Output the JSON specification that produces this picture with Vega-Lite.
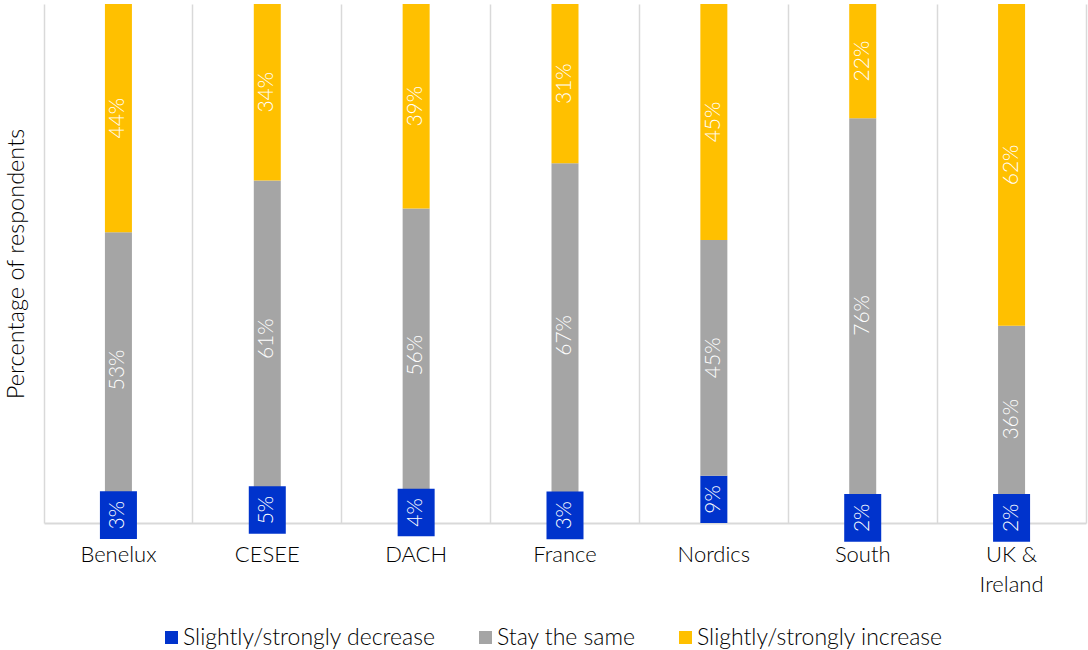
{
  "$schema": "https://vega.github.io/schema/vega-lite/v6.json",
  "width": 1042,
  "height": 519,
  "autosize": {"type": "none"},
  "padding": {"left": 44, "top": 4, "right": 2, "bottom": 127},
  "background": "white",
  "config": {
    "font": "Lato",
    "view": {"stroke": null},
    "axis": {"titleFontWeight": 300}
  },
  "data": {
    "values": [
      {"region": "Benelux", "category": "Slightly/strongly decrease", "order": 1, "value": 3},
      {"region": "Benelux", "category": "Stay the same", "order": 2, "value": 53},
      {"region": "Benelux", "category": "Slightly/strongly increase", "order": 3, "value": 44},
      {"region": "CESEE", "category": "Slightly/strongly decrease", "order": 1, "value": 5},
      {"region": "CESEE", "category": "Stay the same", "order": 2, "value": 61},
      {"region": "CESEE", "category": "Slightly/strongly increase", "order": 3, "value": 34},
      {"region": "DACH", "category": "Slightly/strongly decrease", "order": 1, "value": 4},
      {"region": "DACH", "category": "Stay the same", "order": 2, "value": 56},
      {"region": "DACH", "category": "Slightly/strongly increase", "order": 3, "value": 39},
      {"region": "France", "category": "Slightly/strongly decrease", "order": 1, "value": 3},
      {"region": "France", "category": "Stay the same", "order": 2, "value": 67},
      {"region": "France", "category": "Slightly/strongly increase", "order": 3, "value": 31},
      {"region": "Nordics", "category": "Slightly/strongly decrease", "order": 1, "value": 9},
      {"region": "Nordics", "category": "Stay the same", "order": 2, "value": 45},
      {"region": "Nordics", "category": "Slightly/strongly increase", "order": 3, "value": 45},
      {"region": "South", "category": "Slightly/strongly decrease", "order": 1, "value": 2},
      {"region": "South", "category": "Stay the same", "order": 2, "value": 76},
      {"region": "South", "category": "Slightly/strongly increase", "order": 3, "value": 22},
      {"region": "UK & Ireland", "category": "Slightly/strongly decrease", "order": 1, "value": 2},
      {"region": "UK & Ireland", "category": "Stay the same", "order": 2, "value": 36},
      {"region": "UK & Ireland", "category": "Slightly/strongly increase", "order": 3, "value": 62}
    ]
  },
  "transform": [
    {"stack": "value", "groupby": ["region"], "sort": [{"field": "order", "order": "ascending"}], "as": ["y0", "y1"], "offset": "normalize"},
    {"calculate": "(datum.y0 + datum.y1) / 2", "as": "mid"},
    {"calculate": "datum.value + '%'", "as": "label"}
  ],
  "layer": [
    {
      "mark": {"type": "bar", "width": 27},
      "encoding": {
        "x": {
          "field": "region", "type": "nominal", "sort": null,
          "scale": {"paddingInner": 0, "paddingOuter": 0},
          "axis": {
            "orient": "bottom", "title": null, "labelAngle": 0, "ticks": false,
            "grid": false, "domain": true, "domainColor": "#d9d9d9", "domainWidth": 2,
            "labelFont": "Lato", "labelFontSize": 22, "labelFontWeight": 300, "labelColor": "#000000",
            "labelPadding": 21, "labelLineHeight": 30,
            "labelExpr": "datum.value == 'UK & Ireland' ? ['UK &', 'Ireland'] : datum.value"
          }
        },
        "y": {
          "field": "y0", "type": "quantitative",
          "scale": {"domain": [0, 1], "nice": false, "zero": true},
          "axis": {
            "title": "Percentage of respondents", "titleFontSize": 23.5, "titleColor": "#000000",
            "titleFont": "Lato", "titleFontWeight": 300, "titlePadding": 16,
            "labels": false, "ticks": false, "domain": false, "grid": false
          }
        },
        "y2": {"field": "y1"},
        "color": {
          "field": "category", "type": "nominal",
          "scale": {
            "domain": ["Slightly/strongly decrease", "Stay the same", "Slightly/strongly increase"],
            "range": ["#0033CC", "#A5A5A5", "#FFC000"]
          },
          "legend": {
            "title": null, "orient": "none", "legendX": 116, "legendY": 622, "direction": "horizontal",
            "symbolType": "square", "symbolSize": 170, "symbolStrokeWidth": 0,
            "labelFontSize": 23, "labelFont": "Lato", "labelFontWeight": 300, "labelColor": "#000000",
            "labelLimit": 0, "columnPadding": 38, "labelOffset": 0, "gridAlign": "none"
          }
        }
      }
    },
    {
      "transform": [{"filter": "datum.order != 1"}],
      "mark": {"type": "text", "angle": 270, "align": "center", "baseline": "middle", "color": "white", "fontSize": 21, "font": "Lato", "fontWeight": 300},
      "encoding": {
        "x": {"field": "region", "type": "nominal", "sort": null, "axis": null},
        "y": {"field": "mid", "type": "quantitative", "axis": null},
        "text": {"field": "label"}
      }
    },
    {
      "transform": [{"filter": "datum.order == 1 && datum.value < 6"}],
      "mark": {"type": "point", "shape": "M-0.776,-1L0.776,-1L0.776,1L-0.776,1Z", "size": 2275, "filled": true, "opacity": 1, "color": "#0033CC", "strokeWidth": 0},
      "encoding": {
        "x": {
          "field": "region", "type": "nominal", "sort": null,
          "axis": {"orient": "top", "title": null, "labels": false, "ticks": false, "domain": false, "grid": true, "gridColor": "#d9d9d9", "gridWidth": 1.5, "bandPosition": 0}
        },
        "y": {
          "field": "mid", "type": "quantitative",
          "axis": {"orient": "right", "title": null, "labels": false, "ticks": false, "grid": false, "domain": true, "domainColor": "#d9d9d9", "domainWidth": 1.5}
        }
      }
    },
    {
      "transform": [{"filter": "datum.order == 1"}],
      "mark": {"type": "text", "angle": 270, "align": "center", "baseline": "middle", "color": "white", "fontSize": 21, "font": "Lato", "fontWeight": 300},
      "encoding": {
        "x": {"field": "region", "type": "nominal", "sort": null, "axis": null},
        "y": {"field": "mid", "type": "quantitative", "axis": null},
        "text": {"field": "label"}
      }
    }
  ],
  "resolve": {"axis": {"x": "independent", "y": "independent"}}
}
